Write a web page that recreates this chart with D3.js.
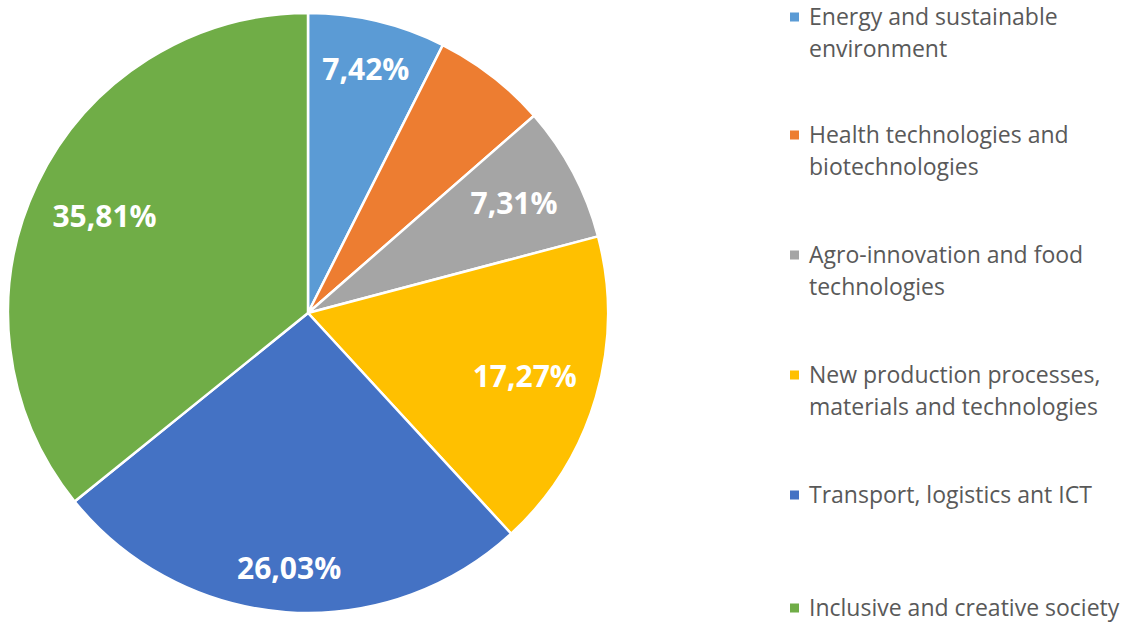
<!DOCTYPE html>
<html><head><meta charset="utf-8">
<script src="https://cdn.jsdelivr.net/npm/d3@7"></script>
<style>body{margin:0;background:#fff}svg{display:block}</style>
</head><body>
<svg id="c" width="1134" height="625"></svg>
<script>
const categories = [
  "Energy and sustainable environment",
  "Health technologies and biotechnologies",
  "Agro-innovation and food technologies",
  "New production processes, materials and technologies",
  "Transport, logistics ant ICT",
  "Inclusive and creative society"
];
const legendLines = [
  ["Energy and sustainable", "environment"],
  ["Health technologies and", "biotechnologies"],
  ["Agro-innovation and food", "technologies"],
  ["New production processes,", "materials and technologies"],
  ["Transport, logistics ant ICT"],
  ["Inclusive and creative society"]
];
const values = [7.42, 6.16, 7.31, 17.27, 26.03, 35.81];
const labels = ["7,42%", "", "7,31%", "17,27%", "26,03%", "35,81%"];
const colors = ["#5B9BD5", "#ED7D31", "#A5A5A5", "#FFC000", "#4472C4", "#70AD47"];

const svg = d3.select("#c");
const cx = 308, cy = 313, R = 300;
const g = svg.append("g").attr("transform", `translate(${cx},${cy})`);
const pie = d3.pie().sort(null).value(d => d);
const arcs = pie(values);
const arc = d3.arc().innerRadius(0).outerRadius(R);

g.selectAll("path").data(arcs).join("path")
  .attr("d", arc)
  .attr("fill", (d, i) => colors[i])
  .attr("stroke", "#fff").attr("stroke-width", 2.5).attr("stroke-linejoin", "round");

// labels: text box kept a fixed margin inside the rim, along the slice's mid angle
const margin = 18, boxH = 44;
const lbl = g.selectAll("text.lbl").data(arcs).join("text").attr("class", "lbl")
  .attr("text-anchor", "middle").attr("dy", "0.36em")
  .attr("fill", "#fff").attr("font-family", "'Open Sans', sans-serif")
  .attr("font-weight", "bold").attr("font-size", 30)
  .text((d, i) => labels[i]);
lbl.each(function(d) {
  const w = this.getComputedTextLength();
  const a = (d.startAngle + d.endAngle) / 2;
  const s = Math.sin(a), c = Math.cos(a);
  const r = R - margin - (w / 2) * Math.abs(s) - (boxH / 2) * Math.abs(c);
  d3.select(this).attr("transform", `translate(${r * s},${-r * c})`);
});

const lg = svg.append("g");
const entryY = [17, 135, 255, 375, 495, 608];
const lineH = 32;
legendLines.forEach((lines, i) => {
  lg.append("rect").attr("x", 790).attr("y", entryY[i] - 4.5).attr("width", 9).attr("height", 9)
    .attr("fill", colors[i]);
  lines.forEach((t, j) => {
    lg.append("text").attr("x", 809).attr("y", entryY[i] + j * lineH).attr("dy", "0.35em")
      .attr("fill", "#595959").attr("font-family", "'Open Sans', sans-serif")
      .attr("font-size", 23).text(t);
  });
});
</script>
</body></html>
